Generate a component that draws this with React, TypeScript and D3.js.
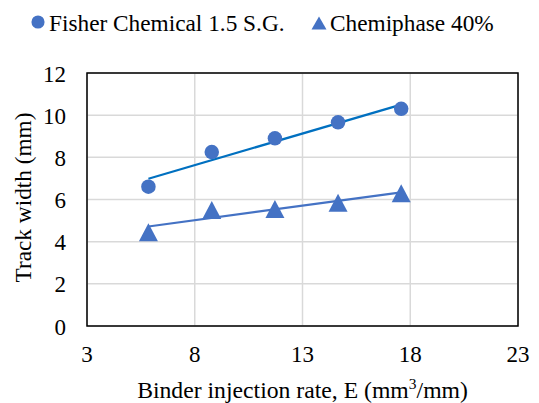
import { useEffect, useRef } from "react";
import * as d3 from "d3";

const injectionRate = [5.85, 8.79, 11.72, 14.65, 17.58];
const fisherWidth = [6.61, 8.25, 8.9, 9.66, 10.3];
const chemiphaseWidth = [4.45, 5.5, 5.55, 5.85, 6.3];
const xTicks = [3, 8, 13, 18, 23];
const yTicks = [0, 2, 4, 6, 8, 10, 12];
const seriesNames = ["Fisher Chemical 1.5 S.G.", "Chemiphase 40%"];

const W = 539;
const H = 403;
const FONT = "'Liberation Serif', 'Times New Roman', serif";
const MARKER = "#4472C4";

// least squares fit, drawn between first and last x like Excel's trendline
const linearFit = (xs: number[], ys: number[]) => {
  const mx = d3.mean(xs)!;
  const my = d3.mean(ys)!;
  const slope =
    d3.sum(xs, (x, i) => (x - mx) * (ys[i] - my)) / d3.sum(xs, (x) => (x - mx) ** 2);
  return (x: number) => my + slope * (x - mx);
};

// excel-style triangle, centred on its bounding box
const trianglePath = (w: number, h: number) => {
  const p = d3.path();
  p.moveTo(0, -h / 2);
  p.lineTo(w / 2, h / 2);
  p.lineTo(-w / 2, h / 2);
  p.closePath();
  return p.toString();
};

export default function App() {
  const svgRef = useRef<SVGSVGElement | null>(null);

  useEffect(() => {
    if (!svgRef.current) return;
    const svg = d3.select(svgRef.current);
    svg.selectAll("*").remove();

    const left = 87;
    const right = 518;
    const top = 73;
    const bottom = 326;

    const x = d3.scaleLinear().domain([3, 23]).range([left, right]);
    const y = d3.scaleLinear().domain([0, 12]).range([bottom, top]);

    // gridlines
    svg
      .append("g")
      .selectAll("line")
      .data(xTicks)
      .join("line")
      .attr("x1", (d) => x(d))
      .attr("x2", (d) => x(d))
      .attr("y1", top)
      .attr("y2", bottom)
      .attr("stroke", "#d9d9d9")
      .attr("stroke-width", 1.5);

    svg
      .append("g")
      .selectAll("line")
      .data(yTicks)
      .join("line")
      .attr("x1", left)
      .attr("x2", right)
      .attr("y1", (d) => y(d))
      .attr("y2", (d) => y(d))
      .attr("stroke", "#d9d9d9")
      .attr("stroke-width", 1.5);

    // plot border
    svg
      .append("rect")
      .attr("x", left)
      .attr("y", top)
      .attr("width", right - left)
      .attr("height", bottom - top)
      .attr("fill", "none")
      .attr("stroke", "#000")
      .attr("stroke-width", 1.5);

    // tick labels
    svg
      .append("g")
      .selectAll("text")
      .data(yTicks)
      .join("text")
      .attr("x", 66)
      .attr("y", (d) => y(d))
      .attr("dy", "0.37em")
      .attr("text-anchor", "end")
      .style("font-family", FONT)
      .style("font-size", "23px")
      .text((d) => d);

    svg
      .append("g")
      .selectAll("text")
      .data(xTicks)
      .join("text")
      .attr("x", (d) => x(d))
      .attr("y", 362)
      .attr("text-anchor", "middle")
      .style("font-family", FONT)
      .style("font-size", "23px")
      .text((d) => d);

    // axis titles
    const xt = svg
      .append("text")
      .attr("x", (left + right) / 2)
      .attr("y", 398)
      .attr("text-anchor", "middle")
      .style("font-family", FONT)
      .style("font-size", "23.7px");
    xt.append("tspan").text("Binder injection rate, E (mm");
    xt.append("tspan").attr("dy", -9).style("font-size", "15.5px").text("3");
    xt.append("tspan").attr("dy", 9).text("/mm)");

    svg
      .append("text")
      .attr("transform", `translate(31, ${(top + bottom) / 2 - 2}) rotate(-90)`)
      .attr("text-anchor", "middle")
      .style("font-family", FONT)
      .style("font-size", "23.3px")
      .text("Track width (mm)");

    // trendlines
    const series = [
      { values: fisherWidth, line: "#0070C0" },
      { values: chemiphaseWidth, line: "#4472C4" },
    ];
    series.forEach((s) => {
      const f = linearFit(injectionRate, s.values);
      const x0 = d3.min(injectionRate)!;
      const x1 = d3.max(injectionRate)!;
      svg
        .append("line")
        .attr("x1", x(x0))
        .attr("y1", y(f(x0)))
        .attr("x2", x(x1))
        .attr("y2", y(f(x1)))
        .attr("stroke", s.line)
        .attr("stroke-width", 2.25);
    });

    // markers
    const circle = d3.symbol().type(d3.symbolCircle).size(165);

    svg
      .append("g")
      .selectAll("path")
      .data(fisherWidth)
      .join("path")
      .attr("d", circle)
      .attr("transform", (d, i) => `translate(${x(injectionRate[i])}, ${y(d)})`)
      .attr("fill", MARKER);

    svg
      .append("g")
      .selectAll("path")
      .data(chemiphaseWidth)
      .join("path")
      .attr("d", trianglePath(19, 18))
      .attr("transform", (d, i) => `translate(${x(injectionRate[i])}, ${y(d)})`)
      .attr("fill", MARKER);

    // legend
    const legend = svg.append("g");
    legend
      .append("path")
      .attr("d", d3.symbol().type(d3.symbolCircle).size(135)())
      .attr("transform", "translate(38, 22)")
      .attr("fill", MARKER);
    legend
      .append("text")
      .attr("x", 49)
      .attr("y", 31)
      .style("font-family", FONT)
      .style("font-size", "23.3px")
      .text(seriesNames[0]);
    legend
      .append("path")
      .attr("d", trianglePath(15, 13))
      .attr("transform", "translate(319, 23)")
      .attr("fill", MARKER);
    legend
      .append("text")
      .attr("x", 330)
      .attr("y", 31)
      .style("font-family", FONT)
      .style("font-size", "23.3px")
      .text(seriesNames[1]);
  }, []);

  return (
    <svg
      ref={svgRef}
      width={W}
      height={H}
      style={{ position: "absolute", left: 0, top: 0, background: "#fff" }}
    />
  );
}
